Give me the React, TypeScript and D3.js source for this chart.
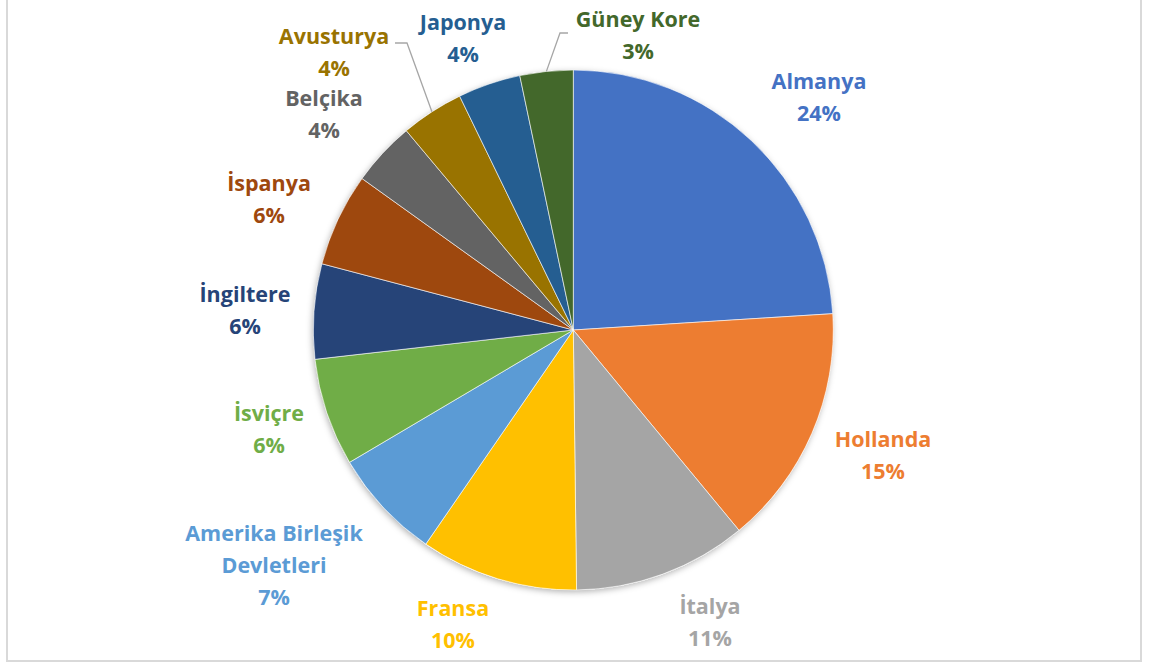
import React from "react";
import * as d3 from "d3";

const countries = [
  "Almanya", "Hollanda", "İtalya", "Fransa", "Amerika Birleşik Devletleri", "İsviçre",
  "İngiltere", "İspanya", "Belçika", "Avusturya", "Japonya", "Güney Kore",
];
const shares = [24.0, 15.0, 10.8, 9.8, 6.9, 6.7, 5.9, 5.8, 4.0, 3.9, 3.9, 3.3];
const shareLabels = ["24%", "15%", "11%", "10%", "7%", "6%", "6%", "6%", "4%", "4%", "4%", "3%"];
const colors = [
  "#4472C4", "#ED7D31", "#A5A5A5", "#FFC000", "#5B9BD5", "#70AD47",
  "#264478", "#9E480E", "#636363", "#997300", "#255E91", "#43682B",
];

// layout: label text lines and centre positions
const labelLines = [
  ["Almanya"], ["Hollanda"], ["İtalya"], ["Fransa"], ["Amerika Birleşik", "Devletleri"], ["İsviçre"],
  ["İngiltere"], ["İspanya"], ["Belçika"], ["Avusturya"], ["Japonya"], ["Güney Kore"],
];
const labelPos: [number, number][] = [
  [819, 81], [883, 439], [710, 606], [453, 608], [274, 533], [269, 413],
  [245, 294], [269, 183], [324, 98], [334, 36], [463, 22], [638, 19],
];
// leader lines: index -> label-side anchor
const leaders: { i: number; x0: number; x1: number; y: number }[] = [
  { i: 9, x0: 395, x1: 407, y: 43 },
  { i: 11, x0: 568, x1: 560, y: 33 },
];

const W = 1150, H = 666;
const cx = 573.3, cy = 330, R = 260;
const lineH = 32;

export default function App() {
  const pie = d3.pie<number>().sort(null).value((d) => d)(shares);
  const arc = d3.arc<d3.PieArcDatum<number>>().innerRadius(0).outerRadius(R);
  const font = "'Open Sans', Lato, sans-serif";
  return (
    <svg width={W} height={H} style={{ position: "absolute", left: 0, top: 0, display: "block" }}>
      <defs>
        <filter id="sh" x="-20%" y="-20%" width="140%" height="140%">
          <feDropShadow dx="-1" dy="2" stdDeviation="3" floodColor="#000" floodOpacity="0.3" />
        </filter>
      </defs>
      <rect x={0} y={0} width={W} height={H} fill="#ffffff" />
      <rect x={7} y={-2} width={1134} height={663} fill="#fff" stroke="#d9d9d9" strokeWidth={2} />
      <g transform={`translate(${cx},${cy})`}>
        <circle r={R} fill="#fff" filter="url(#sh)" />
        {pie.map((p, i) => (
          <path key={i} d={arc(p) || ""} fill={colors[i]} stroke="#fff" strokeWidth={0.6} />
        ))}
      </g>
      {leaders.map((l) => {
        const p = pie[l.i];
        const a = (p.startAngle + p.endAngle) / 2;
        const ex = cx + R * Math.sin(a);
        const ey = cy - R * Math.cos(a);
        return (
          <polyline key={l.i} points={`${l.x0},${l.y} ${l.x1},${l.y} ${ex},${ey}`}
            fill="none" stroke="#a6a6a6" strokeWidth={1.3} />
        );
      })}
      {labelLines.map((lines, i) => {
        const [x, y] = labelPos[i];
        const all = [...lines, shareLabels[i]];
        return (
          <text key={i} x={x} textAnchor="middle" fill={colors[i]} fontFamily={font}
            fontWeight="bold" fontSize={21.5}>
            {all.map((t, j) => (
              <tspan key={j} x={x} y={y + j * lineH + 7.5}>{t}</tspan>
            ))}
          </text>
        );
      })}
    </svg>
  );
}
